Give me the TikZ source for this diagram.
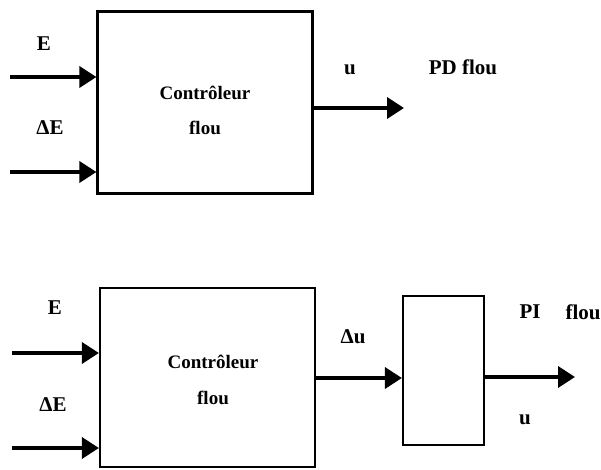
\documentclass[tikz,border=0pt]{standalone}
\usepackage{fontspec}
\setmainfont{Liberation Serif}
\usetikzlibrary{arrows.meta}
\begin{document}
\begin{tikzpicture}[x=1pt,y=-1pt,
  blk/.style={draw, line width=2.2pt, inner sep=0pt},
  sig/.style={line width=3.6pt, -{Triangle[length=17pt,width=21pt]}},
  lbl/.style={font=\bfseries\fontsize{21}{23}\selectfont, inner sep=0pt},
  ctl/.style={font=\bfseries\fontsize{19}{21}\selectfont, inner sep=0pt, align=center}]
\useasboundingbox (0,0) rectangle (601,470);
% top diagram
\node[blk, minimum width=215pt, minimum height=182pt] (c1) at (205,102.5) {};
\node[ctl] (t1a) at (205,93) {Contrôleur};
\node[ctl] (t1b) at (205,128) {flou};
\coordinate (s1a) at (10,77);
\coordinate (s1b) at (10,172);
\draw[sig] (s1a) -- (s1a -| c1.west);
\draw[sig] (s1b) -- (s1b -| c1.west);
\coordinate (o1) at (404,108);
\draw[sig] (c1.east |- o1) -- (o1);
\node[lbl] (e1) at (44,44) {E};
\node[lbl] (de1) at (50,128) {ΔE};
\node[lbl] (u1) at (350,70) {u};
\node[lbl] (pd) at (463,67) {PD flou};
% bottom diagram
\node[blk, minimum width=215pt, minimum height=179pt] (c2) at (207.5,377.5) {};
\node[ctl] (t2a) at (213,362) {Contrôleur};
\node[ctl] (t2b) at (213,398) {flou};
\node[blk, minimum width=81pt, minimum height=149pt] (b2) at (443.5,370.5) {};
\coordinate (s2a) at (12,353);
\coordinate (s2b) at (12,448);
\draw[sig] (s2a) -- (s2a -| c2.west);
\draw[sig] (s2b) -- (s2b -| c2.west);
\draw[sig] (c2.east |- 0,378) -- (b2.west |- 0,378);
\coordinate (o2) at (575,377);
\draw[sig] (b2.east |- o2) -- (o2);
\node[lbl] (e2) at (55,308) {E};
\node[lbl] (de2) at (53,405) {ΔE};
\node[lbl] (du) at (353,337) {Δu};
\node[lbl] (pi) at (530,312) {PI};
\node[lbl] (fl) at (583,312) {flou};
\node[lbl] (u2) at (525,420) {u};
\end{tikzpicture}
\end{document}
